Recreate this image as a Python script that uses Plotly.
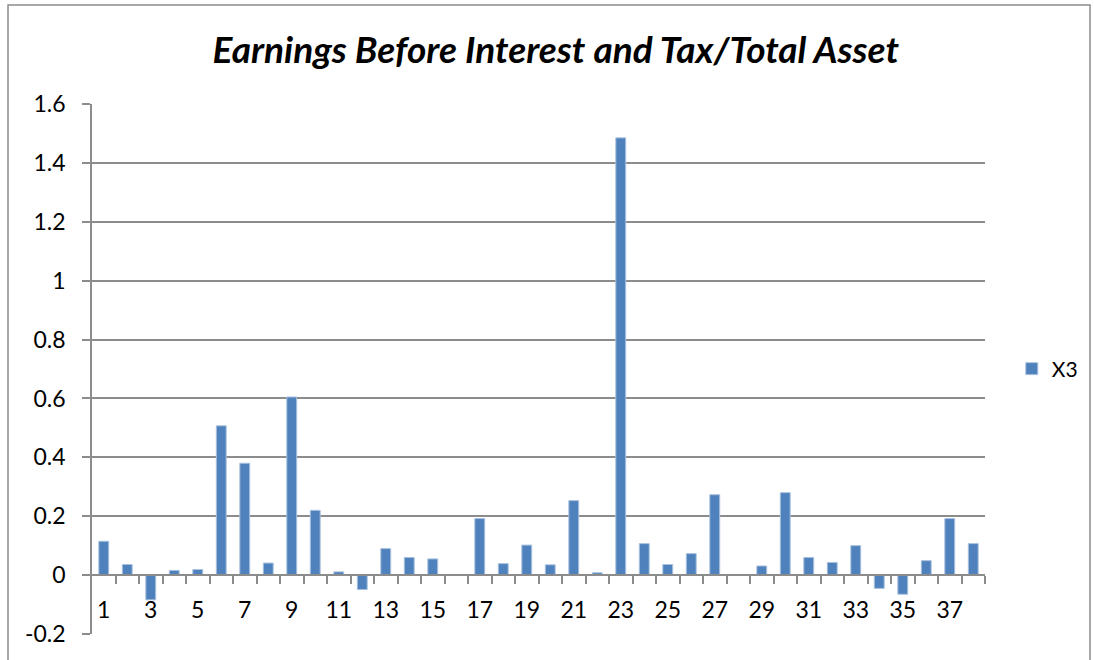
import plotly.graph_objects as go

# data
periods = list(range(1, 39))
x3 = [
    0.115, 0.036, -0.084, 0.016, 0.019, 0.507, 0.380, 0.041, 0.605, 0.220,
    0.011, -0.049, 0.090, 0.060, 0.055, 0.0, 0.192, 0.039, 0.102, 0.035,
    0.253, 0.008, 1.485, 0.107, 0.036, 0.073, 0.273, 0.0, 0.031, 0.280,
    0.060, 0.043, 0.100, -0.045, -0.065, 0.049, 0.192, 0.107,
]
xtick_vals = periods[::2]
ytick_vals = [-0.2, 0, 0.2, 0.4, 0.6, 0.8, 1, 1.2, 1.4, 1.6]
ytick_text = ["-0.2", "0", "0.2", "0.4", "0.6", "0.8", "1", "1.2", "1.4", "1.6"]

GRID = "#8c8c8c"
FONT = "Lato, 'Open Sans', sans-serif"
y_min, y_max = ytick_vals[0], ytick_vals[-1]

fig = go.Figure()
fig.add_trace(go.Bar(
    name="X3",
    x=periods,
    y=x3,
    marker=dict(color="#4F81BD", line=dict(color="#a9c1de", width=1)),
))

fig.update_layout(
    width=1094,
    height=660,
    paper_bgcolor="white",
    plot_bgcolor="white",
    margin=dict(l=92, r=109, t=104, b=26, autoexpand=False),
    bargap=0.58,
    font=dict(family=FONT, size=23, color="black"),
    title=dict(
        text="<b><i>Earnings Before Interest and Tax/Total Asset</i></b>",
        x=0.508, xref="container", xanchor="center",
        y=1 - 50 / 660, yanchor="middle",
        font=dict(family=FONT, size=37, color="black"),
    ),
    showlegend=True,
    legend=dict(
        x=1.03, xanchor="left", y=0.5, yanchor="middle",
        font=dict(size=21), bgcolor="rgba(0,0,0,0)",
    ),
    xaxis=dict(
        range=[0.5, len(periods) + 0.5],
        anchor="free",
        position=(0 - y_min) / (y_max - y_min),
        showline=True, linecolor=GRID, linewidth=1.5,
        showgrid=False, zeroline=False,
        tickmode="array", tickvals=xtick_vals,
        ticks="", ticklabelstandoff=15,
        minor=dict(
            tickmode="array",
            tickvals=[p + 0.5 for p in periods],
            ticks="outside", ticklen=8, tickwidth=1.5, tickcolor=GRID,
            showgrid=False,
        ),
    ),
    yaxis=dict(
        range=[y_min, y_max],
        tickmode="array", tickvals=ytick_vals, ticktext=ytick_text,
        showline=True, linecolor=GRID, linewidth=1.5,
        showgrid=True, gridcolor=GRID, gridwidth=1.5,
        zeroline=False,
        ticks="outside", ticklen=8, tickwidth=1.5, tickcolor=GRID,
        ticklabelstandoff=12,
    ),
    shapes=[dict(
        type="rect", xref="paper", yref="paper",
        x0=(8 - 92) / 893, x1=(1090 - 92) / 893,
        y0=-0.06, y1=(634 - 5) / 530,
        line=dict(color="#8c8c8c", width=1.5),
        fillcolor="rgba(0,0,0,0)", layer="below",
    )],
)

# the page's default body margin would push the chart 8px right and down
fig.write_html(
    "out.html",
    config={"displayModeBar": False},
    post_script="document.body.style.margin = '0';",
)
